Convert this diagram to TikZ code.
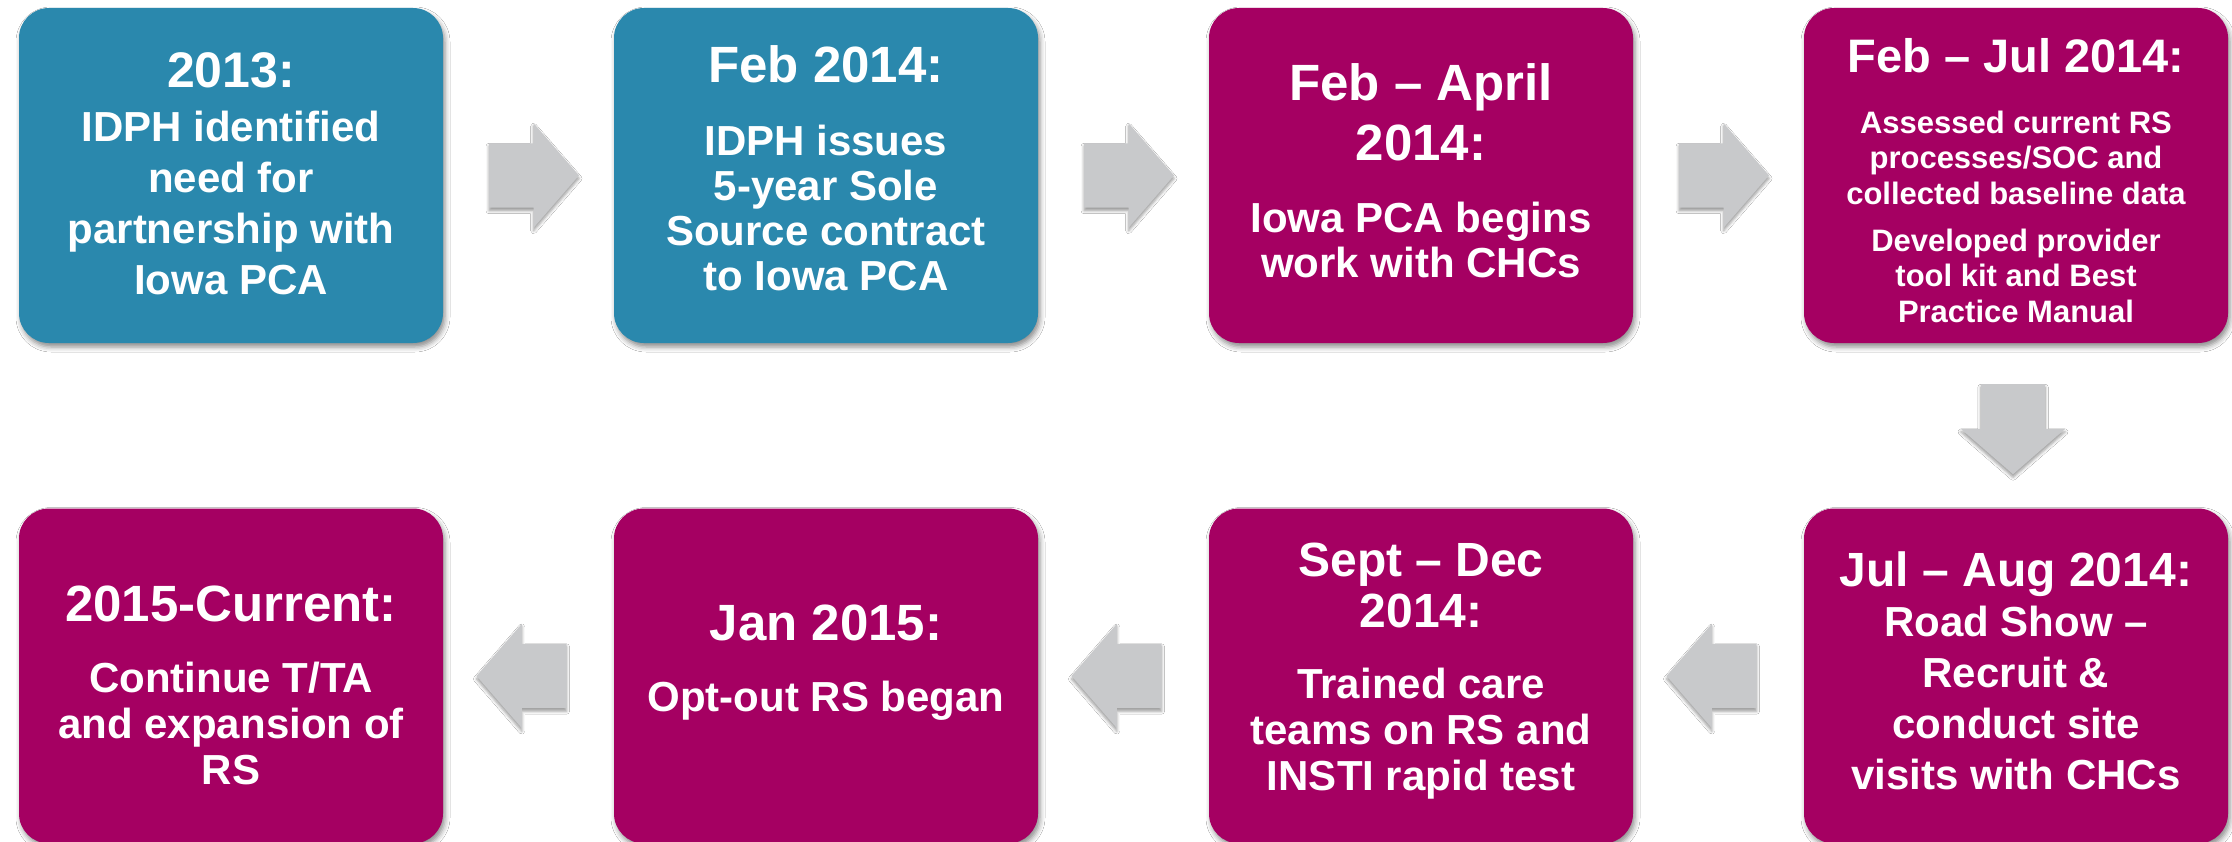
\documentclass[tikz,border=0pt]{standalone}
\usepackage{fontspec}
\setmainfont{Liberation Sans}
\usetikzlibrary{positioning, calc, shapes.arrows, shadows.blur}

\definecolor{idphblue}{HTML}{2A88AD}
\definecolor{pcapink}{HTML}{A50062}
\definecolor{arrowgray}{HTML}{C8C9CB}

% title line of a stage
\newcommand{\when}[2][51]{{\fontsize{#1}{#1}\selectfont #2}}

\begin{document}
\begin{tikzpicture}[x=1pt, y=-1pt,
  card/.style={rounded corners=30pt, minimum width=424pt, minimum height=335pt, inner sep=0pt,
    blur shadow={shadow xshift=2pt, shadow yshift=-4pt, shadow blur radius=5pt, shadow opacity=45}},
  bigarrow/.style={single arrow, fill=arrowgray, inner sep=0pt, text height=32pt, text depth=32pt,
    minimum height=90pt, single arrow head extend=20pt, single arrow tip angle=98,
    blur shadow={shadow xshift=0pt, shadow yshift=-3pt, shadow blur radius=3pt, shadow opacity=40}},
  cardtext/.style={anchor=north, inner sep=0pt, align=center, text=white}
]
\path[fill=white] (0,0) rectangle (2232,842);
\useasboundingbox (0,0) rectangle (2232,842);

% the eight stages
\foreach \n/\x/\y/\c in {s1/231/175.5/idphblue, s2/826/175.5/idphblue, s3/1421/175.5/pcapink, s4/2016/175.5/pcapink,
    s5/2016/676/pcapink, s6/1421/676/pcapink, s7/826/676/pcapink, s8/231/676/pcapink}
  \node[card, fill=\c] (\n) at (\x,\y) {};

% arrows between the stages
\node[bigarrow] (a12) at ([xshift=-8.5pt]$(s1.east)!0.5!(s2.west)$) {};
\node[bigarrow] (a23) at ([xshift=-8.5pt]$(s2.east)!0.5!(s3.west)$) {};
\node[bigarrow] (a34) at ([xshift=-8.5pt]$(s3.east)!0.5!(s4.west)$) {};
\node[bigarrow, rotate=-90] (a45) at ([xshift=-3pt, yshift=10.5pt]$(s4.south)!0.5!(s5.north)$) {};
\node[bigarrow, rotate=180] (a56) at ([xshift=7pt]$(s5.west)!0.5!(s6.east)$) {};
\node[bigarrow, rotate=180] (a67) at ([xshift=7pt]$(s6.west)!0.5!(s7.east)$) {};
\node[bigarrow, rotate=180] (a78) at ([xshift=7pt]$(s7.west)!0.5!(s8.east)$) {};

% texts
\node[cardtext, font=\bfseries\fontsize{42}{51}\selectfont] (t1) at ([yshift=-45pt]s1.north)
  {\when[50]{2013:}\\[3pt] IDPH identified\\ need for\\ partnership with\\ Iowa PCA};
\node[cardtext, font=\bfseries\fontsize{42}{45}\selectfont] (t2) at ([yshift=-37.5pt]s2.north)
  {\when{Feb 2014:}\\[28pt] IDPH issues\\ 5-year Sole\\ Source contract\\ to Iowa PCA};
\node[cardtext, font=\bfseries\fontsize{42}{45}\selectfont] (t3) at ([yshift=-55.5pt]s3.north)
  {\when{Feb – April}\\[13pt] \when{2014:}\\[27pt] Iowa PCA begins\\ work with CHCs};
\node[cardtext, font=\bfseries\fontsize{31}{35.5}\selectfont] (t4) at ([yshift=-30pt]s4.north)
  {\when[47]{Feb – Jul 2014:}\\[25.5pt] Assessed current RS\\ processes/SOC and\\ collected baseline data\\[11.5pt]
   Developed provider\\ tool kit and Best\\ Practice Manual};
\node[cardtext, font=\bfseries\fontsize{42}{50.7}\selectfont] (t5) at ([yshift=-43pt]s5.north)
  {\when[48]{Jul – Aug 2014:}\\ Road Show –\\ Recruit \&\\ conduct site\\ visits with CHCs};
\node[cardtext, font=\bfseries\fontsize{42}{46}\selectfont] (t6) at ([yshift=-34pt]s6.north)
  {\when[48]{Sept – Dec}\\[5pt] \when[48]{2014:}\\[25pt] Trained care\\ teams on RS and\\ INSTI rapid test};
\node[cardtext, font=\bfseries\fontsize{42}{45}\selectfont] (t7) at ([yshift=-96pt]s7.north)
  {\when{Jan 2015:}\\[26pt] Opt-out RS began};
\node[cardtext, font=\bfseries\fontsize{42}{46}\selectfont] (t8) at ([yshift=-77pt]s8.north)
  {\when{2015-Current:}\\[25pt] Continue T/TA\\ and expansion of\\ RS};
\end{tikzpicture}
\end{document}
